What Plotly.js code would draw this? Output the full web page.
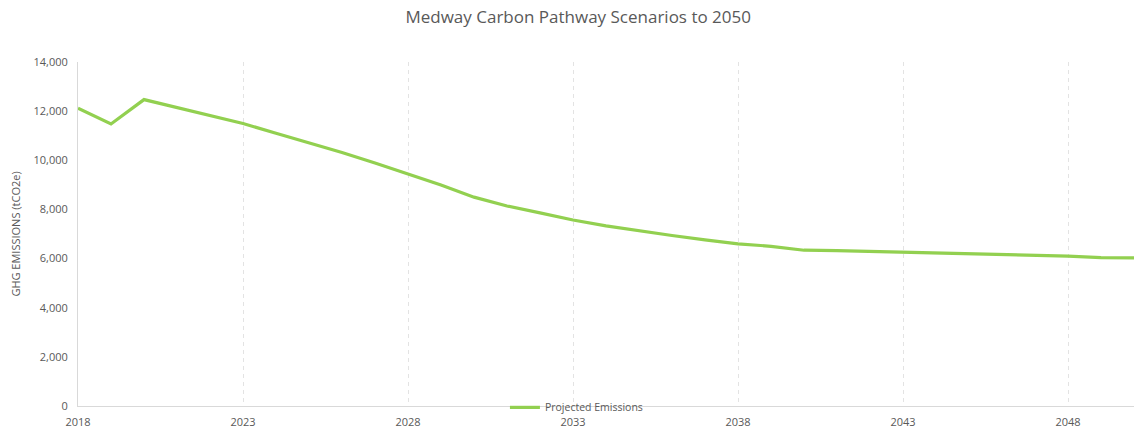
<!DOCTYPE html>
<html>
<head>
<meta charset="utf-8">
<script src="https://cdn.plot.ly/plotly-3.0.1.min.js"></script>
<style>html,body{margin:0;padding:0;background:#fff;}#chart{width:1136px;height:430px;}</style>
</head>
<body>
<div id="chart"></div>
<script>
const years = [2018,2019,2020,2021,2022,2023,2024,2025,2026,2027,2028,2029,2030,2031,2032,2033,2034,2035,2036,2037,2038,2039,2040,2041,2042,2043,2044,2045,2046,2047,2048,2049,2050];
const projectedEmissions = [12120,11480,12470,12150,11830,11500,11100,10720,10320,9890,9450,8990,8500,8140,7860,7570,7330,7120,6940,6760,6600,6500,6340,6320,6290,6250,6230,6190,6150,6140,6100,6040,6030];
const seriesName = 'Projected Emissions';
const chartTitle = 'Medway Carbon Pathway Scenarios to 2050';
const yTitle = 'GHG EMISSIONS (tCO2e)';

const trace = {
  x: years, y: projectedEmissions, type: 'scatter', mode: 'lines', name: seriesName,
  line: {color: '#92D050', width: 3.2}
};
const font = "Open Sans, Liberation Sans, sans-serif";
const layout = {
  width: 1136, height: 430,
  margin: {l: 78, r: 2, t: 62, b: 24},
  paper_bgcolor: '#fff', plot_bgcolor: '#fff',
  font: {family: font, color: '#595959', size: 11},
  title: {text: chartTitle, x: 0.509, xref: 'container', y: 0.96, yref: 'container', yanchor: 'middle',
          font: {family: font, size: 17, color: '#595959'}},
  xaxis: {range: [2018, 2050], tick0: 2018, dtick: 5, tickmode: 'linear',
          showgrid: true, gridcolor: '#e3e3e3', griddash: '4px,4px', gridwidth: 1,
          showline: true, linecolor: '#d9d9d9', linewidth: 1, zeroline: false,
          ticks: '', ticklabelstandoff: 6, tickfont: {size: 11, color: '#595959'}},
  yaxis: {range: [0, 14000], dtick: 2000, tickformat: ',', showgrid: false,
          showline: true, linecolor: '#d9d9d9', linewidth: 1, zeroline: false,
          ticks: '', ticklabelstandoff: 7, tickfont: {size: 11, color: '#595959'},
          title: {text: yTitle, standoff: 10, font: {size: 11, color: '#595959'}}},
  showlegend: true,
  legend: {orientation: 'h', x: 0.472, xanchor: 'center', y: -0.004, yanchor: 'middle',
           bgcolor: 'rgba(0,0,0,0)', font: {size: 10.5, color: '#595959'}}
};
Plotly.newPlot('chart', [trace], layout, {displayModeBar: false, staticPlot: true});
</script>
</body>
</html>
